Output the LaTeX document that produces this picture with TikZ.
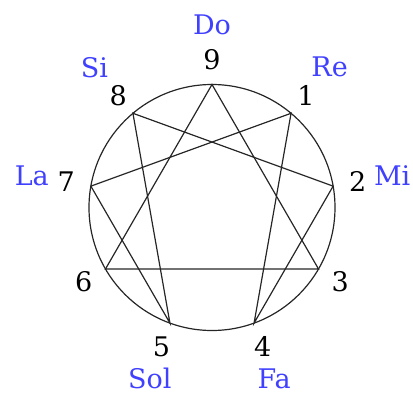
\documentclass[tikz,border=0pt]{standalone}
\usepackage{fontspec}
\setmainfont{DejaVu Serif}
\definecolor{noteblue}{RGB}{64,64,255}
\begin{document}
\begin{tikzpicture}[x=1pt,y=1pt,line width=1.2pt,font=\fontsize{27}{30}\selectfont,
    notename/.style={text=noteblue,inner sep=0.5pt}]
  \useasboundingbox (-212,-189.5) rectangle (201,207.5);
  \coordinate (O) at (0,0);
  \coordinate (P9) at (90:123);
  \coordinate (P1) at (50:123);
  \coordinate (P2) at (10:123);
  \coordinate (P3) at (-30:123);
  \coordinate (P4) at (-70:123);
  \coordinate (P5) at (-110:123);
  \coordinate (P6) at (-150:123);
  \coordinate (P7) at (170:123);
  \coordinate (P8) at (130:123);

  % 外圆
  \draw[black!85] (O) circle[radius=123];

  % 三角形与六边形
  \draw[black!85] (P9) -- (P3) -- (P6) -- cycle;
  \draw[black!85] (P1) -- (P4) -- (P2) -- (P8) -- (P5) -- (P7) -- cycle;

  % 数字
  \node (n9) at (90:148) {9};
  \node (n1) at (50:146) {1};
  \node (n2) at (10:148) {2};
  \node (n3) at (-30:148) {3};
  \node (n4) at (-70:148) {4};
  \node (n5) at (-110:148) {5};
  \node (n6) at (-150:148) {6};
  \node (n7) at (170:148) {7};
  \node (n8) at (130:146) {8};

  % 音名
  \node[notename] (do) at (90:183) {Do};
  \node[notename] (re) at (50:183) {Re};
  \node[notename] (mi) at (10:183) {Mi};
  \node[notename] (fa) at (-70:182) {Fa};
  \node[notename] (sol) at (-110:182) {Sol};
  \node[notename] (la) at (170:183) {La};
  \node[notename] (si) at (130:183) {Si};
\end{tikzpicture}
\end{document}
